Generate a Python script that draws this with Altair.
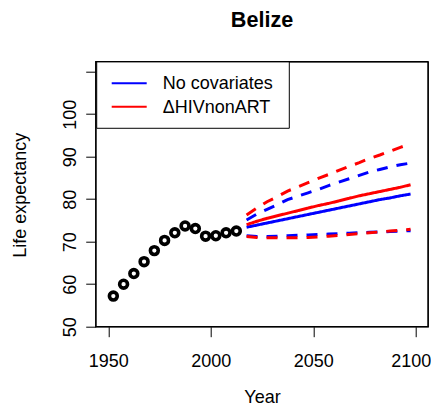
import altair as alt
import pandas as pd

FONT = "Liberation Sans"

# Observed life expectancy (circles)
obs_years = [1952.5, 1957.5, 1962.5, 1967.5, 1972.5, 1977.5, 1982.5,
             1987.5, 1992.5, 1997.5, 2002.5, 2007.5, 2012.5]
obs_e0 = [57.2, 60.0, 62.5, 65.3, 67.9, 70.3, 72.1, 73.7, 73.1, 71.3, 71.4, 72.1, 72.5]

# Projections
proj_years = [2017.5, 2022.5, 2027.5, 2032.5, 2037.5, 2042.5, 2047.5, 2052.5, 2057.5,
              2062.5, 2067.5, 2072.5, 2077.5, 2082.5, 2087.5, 2092.5, 2097.5]
nocov_median = [73.4, 73.9, 74.4, 74.9, 75.4, 75.9, 76.4, 76.9, 77.4,
                77.9, 78.4, 78.9, 79.4, 79.9, 80.3, 80.8, 81.2]
nocov_upper = [75.1, 76.5, 77.6, 78.7, 79.9, 80.7, 81.5, 82.3, 83.2,
               84.0, 84.8, 85.6, 86.4, 87.0, 87.6, 88.1, 88.5]
nocov_lower = [71.4, 71.2, 71.2, 71.3, 71.4, 71.5, 71.6, 71.7, 71.8,
               71.9, 72.0, 72.1, 72.2, 72.3, 72.4, 72.5, 72.6]
hiv_median = [74.0, 74.8, 75.5, 76.1, 76.7, 77.3, 77.9, 78.5, 79.0,
              79.6, 80.2, 80.8, 81.3, 81.8, 82.3, 82.8, 83.4]
hiv_upper = [76.3, 77.9, 79.4, 80.6, 81.9, 82.9, 83.9, 84.9, 85.8,
             86.8, 87.7, 88.6, 89.6, 90.4, 91.3, 92.2, 93.0]
hiv_lower = [71.2, 71.0, 70.9, 70.9, 70.9, 70.9, 71.0, 71.1, 71.3,
             71.5, 71.7, 71.9, 72.1, 72.3, 72.5, 72.7, 72.9]

title_text = "Belize"
models = ["No covariates", "\u0394HIVnonART"]
model_colors = ["#0000FF", "#FF0000"]
x_ticks = [1950, 2000, 2050, 2100]
y_ticks = [50, 60, 70, 80, 90, 100, 110]

W, H = 332.3, 265

obs_df = pd.DataFrame({"year": obs_years, "e0": obs_e0})

rows = []
for model, series in [
    (models[0], [("median", "median", nocov_median), ("upper", "bound", nocov_upper), ("lower", "bound", nocov_lower)]),
    (models[1], [("median", "median", hiv_median), ("upper", "bound", hiv_upper), ("lower", "bound", hiv_lower)]),
]:
    for name, kind, vals in series:
        for y, v in zip(proj_years, vals):
            rows.append({"year": y, "e0": v, "model": model, "line": model + "-" + name, "kind": kind})
proj_df = pd.DataFrame(rows)

x_scale = alt.Scale(domain=[1943.9, 2106.0], nice=False, zero=False)
y_scale = alt.Scale(domain=[50, 112.35], nice=False, zero=False)
color_scale = alt.Scale(domain=models, range=model_colors)

x_axis = alt.Axis(values=x_ticks, format="d", title="Year", grid=False, domain=False,
                  tickColor="black", tickSize=10, tickWidth=1,
                  labelFont=FONT, labelFontSize=18, labelColor="black",
                  labelBaseline="alphabetic", labelPadding=30, labelFlush=False,
                  labelOffset={"condition": {"test": "datum.value == 2100", "value": -5}, "value": 0},
                  titleFont=FONT, titleFontSize=18, titleFontWeight="normal", titleColor="black",
                  titleBaseline="alphabetic", titleX=166.3, titleY=76, titleAlign="center")
y_axis = alt.Axis(values=y_ticks, format="d", title="Life expectancy", grid=False, domain=False,
                  tickColor="black", tickSize=10, tickWidth=1,
                  labelFont=FONT, labelFontSize=18, labelColor="black",
                  labelAngle=270, labelAlign="center", labelBaseline="alphabetic",
                  labelPadding=10, labelFlush=False,
                  labelExpr="datum.value == 110 ? '' : datum.label",
                  titleFont=FONT, titleFontSize=18, titleFontWeight="normal", titleColor="black",
                  titleAngle=270, titleAlign="center", titleBaseline="alphabetic",
                  titleX=-70.7, titleY=133)

# Plot frame (R box)
frame = alt.Chart(pd.DataFrame({"k": [0]})).mark_rect(
    fill=None, fillOpacity=0, stroke="black", strokeWidth=1.2).encode(
    x=alt.value(0), x2=alt.value(W), y=alt.value(0), y2=alt.value(H))

points = alt.Chart(obs_df).mark_point(filled=False, stroke="black", strokeWidth=3.6,
                                       size=62, opacity=1).encode(
    x=alt.X("year:Q", scale=x_scale, axis=x_axis),
    y=alt.Y("e0:Q", scale=y_scale, axis=y_axis),
)

lines = alt.Chart(proj_df).mark_line(strokeWidth=3).encode(
    x=alt.X("year:Q", scale=x_scale),
    y=alt.Y("e0:Q", scale=y_scale),
    color=alt.Color("model:N", scale=color_scale, legend=None),
    strokeDash=alt.StrokeDash("kind:N",
                              scale=alt.Scale(domain=["median", "bound"], range=[[1, 0], [11, 9]]),
                              legend=None),
    detail="line:N",
)

# Hand-built legend box (R style)
legend_box = alt.Chart(pd.DataFrame({"k": [0]})).mark_rect(
    fill="white", stroke="black", strokeWidth=1).encode(
    x=alt.value(1), x2=alt.value(193.6), y=alt.value(0), y2=alt.value(66.6))

legend_layers = [legend_box]
for i, (m, c) in enumerate(zip(models, model_colors)):
    d = pd.DataFrame({"model": [m]})
    yy = 21.6 + 23.4 * i
    legend_layers.append(alt.Chart(d).mark_rule(strokeWidth=2, color=c).encode(
        x=alt.value(16), x2=alt.value(51), y=alt.value(yy)))
    legend_layers.append(alt.Chart(d).mark_text(
        align="left", baseline="middle", font=FONT, fontSize=18, color="black", dy=1).encode(
        x=alt.value(67), y=alt.value(yy), text="model:N"))

title_layer = alt.Chart(pd.DataFrame({"t": [title_text]})).mark_text(
    align="center", baseline="alphabetic", font=FONT, fontSize=21.6, fontWeight="bold",
    color="black").encode(x=alt.value(166.3), y=alt.value(-35), text="t:N")

chart = alt.layer(lines, points, *legend_layers, frame, title_layer).properties(
    width=W, height=H,
    background="white",
    autosize=alt.AutoSizeParams(type="none"),
    padding={"left": 87.7, "top": 53.7, "right": 3, "bottom": 80},
).configure_view(stroke="black", strokeWidth=1.2)

chart.save("out.html", embed_options={"renderer": "svg", "actions": False})
